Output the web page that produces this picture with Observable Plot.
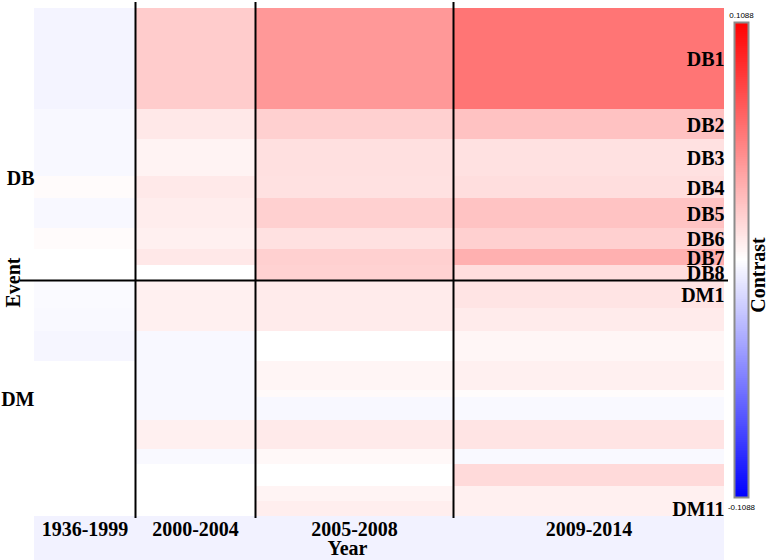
<!DOCTYPE html>
<html><head><meta charset="utf-8">
<script src="https://cdn.jsdelivr.net/npm/d3@7"></script>
<script src="https://cdn.jsdelivr.net/npm/@observablehq/plot@0.6"></script>
<style>
html,body{margin:0;padding:0;background:#fff;}
#wrap{position:relative;width:769px;height:560px;overflow:hidden;}
#main{position:absolute;left:0;top:0;}
#legend{position:absolute;left:725px;top:0;}
</style></head>
<body><div id="wrap"><div id="main"></div><div id="legend"></div></div>
<script>
// Periods (columns) and their relative shares (column widths in the mosaic)
const years = ["1936-1999", "2000-2004", "2005-2008", "2009-2014"];
const yearShares = [101, 120, 198, 271];

// Events (rows) and their relative shares (row heights in the mosaic)
const groups = ["DB", "DM"];
const dbEvents = ["DB1", "DB2", "DB3", "DB4", "DB5", "DB6", "DB7", "DB8"];
const dbShares = [101, 30, 37, 22, 30, 21, 16, 15];
const dmEvents = ["DM1", "DM2", "DM3", "DM4", "DM5", "DM6", "DM7", "DM8", "DM9", "DM10", "DM11"];
const dmShares = [28, 23, 30, 29, 7, 23, 29, 15, 22, 15, 15];

// Contrast values per period, rows DB1..DB8 then DM1..DM11
const c1936_1999 = [-0.0047, -0.003, -0.003, 0.0017, -0.003, 0.0017, 0, 0,
                    -0.002, -0.0026, -0.0038, 0, 0, 0, 0, 0, 0, 0, 0];
const c2000_2004 = [0.0218, 0.0098, 0.0051, 0.0094, 0.0077, 0.0064, 0.0098, 0,
                    0.0064, 0.0064, -0.003, -0.003, -0.003, -0.003, 0.0064, -0.0026, 0, 0, 0];
const c2005_2008 = [0.0439, 0.020, 0.0132, 0.0128, 0.020, 0.0128, 0.020, 0.019,
                    0.0085, 0.0085, 0, 0.0043, 0.002, -0.003, 0.009, 0.003, 0, 0.0047, 0.0072];
const c2009_2014 = [0.0589, 0.026, 0.0128, 0.014, 0.0256, 0.020, 0.0337, 0.014,
                    0.0115, 0.0085, 0.0038, 0.0064, 0.0013, -0.0026, 0.0115, -0.0026, 0.0158, 0.0064, 0.0064];

const contrastMax = 0.1088;

// ---- derived tables ----
const columns = [c1936_1999, c2000_2004, c2005_2008, c2009_2014];
const events = dbEvents.concat(dmEvents);
const shares = dbShares.concat(dmShares);
const xEdges = [0, ...d3.cumsum(yearShares)];
const yEdges = [0, ...d3.cumsum(shares)];
const totalX = xEdges[xEdges.length - 1];
const totalY = yEdges[yEdges.length - 1];
const dbTotal = d3.sum(dbShares);

const cells = events.flatMap((e, i) => years.map((yr, j) => ({
  event: e, year: yr,
  x1: xEdges[j], x2: xEdges[j + 1],
  y1: yEdges[i], y2: yEdges[i + 1],
  v: columns[j][i]
})));

const rowCenters = events.map((e, i) => ({event: e, y: (yEdges[i] + yEdges[i + 1]) / 2}));
const rowLabels = rowCenters.filter(d => dbEvents.includes(d.event) || d.event === dmEvents[0] || d.event === dmEvents[dmEvents.length - 1]);
const groupLabels = [
  {g: groups[0], y: rowCenters[Math.floor((dbEvents.length - 1) / 2)].y},
  {g: groups[1], y: rowCenters[dbEvents.length + Math.floor((dmEvents.length - 1) / 2)].y}
];
const colCells = years.map((yr, j) => ({year: yr, x1: xEdges[j], x2: xEdges[j + 1], xc: (xEdges[j] + xEdges[j + 1]) / 2}));

const colorScale = {type: "linear", domain: [-contrastMax, 0, contrastMax], range: ["#0000ff", "#ffffff", "#ff0000"], interpolate: "rgb"};
const serif = "'Liberation Serif', 'Times New Roman', serif";

const main = Plot.plot({
  width: 769, height: 560,
  marginLeft: 34, marginRight: 45, marginTop: 8, marginBottom: 44,
  x: {domain: [0, totalX], axis: null},
  y: {domain: [0, totalY], reverse: true, axis: null},
  color: colorScale,
  style: {fontFamily: serif, background: "white", overflow: "visible"},
  marks: [
    Plot.rect(colCells, {x1: "x1", x2: "x2", y1: totalY, y2: totalY, insetBottom: -44, fill: "#f2f2ff"}),
    Plot.rect(cells, {x1: "x1", x2: "x2", y1: "y1", y2: "y2", fill: "v", shapeRendering: "crispEdges"}),
    Plot.ruleX(xEdges.slice(1, -1), {stroke: "black", strokeWidth: 2, insetTop: -6, insetBottom: -2}),
    Plot.ruleY([dbTotal], {stroke: "black", strokeWidth: 2, insetLeft: -14, insetRight: -4}),
    Plot.text(rowLabels, {x: totalX, y: "y", text: "event", textAnchor: "end", dy: 1, fontSize: 20, fontWeight: "bold", fill: "black"}),
    Plot.text(groupLabels, {x: 0, y: "y", text: "g", textAnchor: "end", dy: -9, fontSize: 20, fontWeight: "bold", fill: "black"}),
    Plot.text(colCells, {x: "xc", y: totalY, text: "year", dy: 13, fontSize: 20, fontWeight: "bold", fill: "black"}),
    Plot.text(["Year"], {frameAnchor: "bottom", textAnchor: "middle", lineAnchor: "middle", dx: -32, dy: 32, fontSize: 20, fontWeight: "bold", fill: "black"}),
    Plot.text(["Event"], {x: 0, y: dbTotal, textAnchor: "middle", lineAnchor: "middle", dx: -21, dy: 2, rotate: -90, fontSize: 20, fontWeight: "bold", fill: "black"})
  ]
});
document.getElementById("main").append(main);

// ---- colour bar ----
const nSteps = 240;
const stepSize = (2 * contrastMax) / nSteps;
const ramp = d3.range(nSteps).map(i => ({y1: -contrastMax + i * stepSize, y2: -contrastMax + (i + 1) * stepSize, v: -contrastMax + (i + 0.5) * stepSize}));

const legend = Plot.plot({
  width: 44, height: 560,
  marginLeft: 9, marginRight: 21, marginTop: 22, marginBottom: 63,
  x: {domain: [0, 1], axis: null},
  y: {domain: [-contrastMax, contrastMax], axis: null},
  color: colorScale,
  style: {fontFamily: serif, background: "transparent", overflow: "visible"},
  marks: [
    Plot.rect(ramp, {x1: 0, x2: 1, y1: "y1", y2: "y2", fill: "v", shapeRendering: "crispEdges"}),
    Plot.frame({stroke: "#8c8c8c", strokeWidth: 2}),
    Plot.text([contrastMax], {x: 0.5, y: d => d, text: d => String(d), dy: -7, fontSize: 8, fontFamily: "'Liberation Sans', Arial, sans-serif", fill: "black"}),
    Plot.text([-contrastMax], {x: 0.5, y: d => d, text: d => String(d), dy: 10, fontSize: 8, fontFamily: "'Liberation Sans', Arial, sans-serif", fill: "black"}),
    Plot.text(["Contrast"], {x: 1, y: 0, dx: 10, dy: 15, rotate: -90, fontSize: 20, fontWeight: "bold", fill: "black"})
  ]
});
document.getElementById("legend").append(legend);
</script>
</body></html>
